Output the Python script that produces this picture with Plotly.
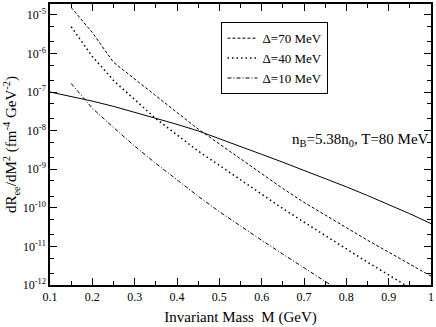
import plotly.graph_objects as go

M = [0.10, 0.15, 0.20, 0.25, 0.30, 0.35, 0.40, 0.45, 0.50, 0.55, 0.60, 0.65, 0.70, 0.75, 0.80, 0.85, 0.90, 0.95, 1.00]

# log10 of dR/dM^2 values
log_solid = [-7.00, -7.115, -7.236, -7.372, -7.526, -7.679, -7.838, -8.008, -8.205, -8.41, -8.615,
             -8.82, -9.026, -9.238, -9.456, -9.682, -9.915, -10.154, -10.41]
M70 = M[1:]
log_70 = [-4.81, -5.46, -6.23, -6.67, -7.10, -7.53, -7.96, -8.35, -8.74, -9.12, -9.50,
          -9.86, -10.19, -10.52, -10.84, -11.15, -11.46, -11.77]
M40 = M[1:]
log_40 = [-5.31, -6.08, -6.70, -7.19, -7.69, -8.11, -8.53, -8.90, -9.28, -9.65, -10.02,
          -10.37, -10.72, -11.07, -11.41, -11.74, -12.08, -12.41]
M10 = M[1:15]
log_10 = [-6.78, -7.42, -7.92, -8.40, -8.85, -9.28, -9.70, -10.10, -10.48, -10.84, -11.20,
          -11.56, -11.91, -12.26]

ytick_exp = [-12, -11, -10, -9, -8, -7, -6, -5]
xticks = [0.1, 0.2, 0.3, 0.4, 0.5, 0.6, 0.7, 0.8, 0.9, 1.0]
xtick_text = ["0.1", "0.2", "0.3", "0.4", "0.5", "0.6", "0.7", "0.8", "0.9", "1"]

FONT = "Liberation Serif, Times New Roman, serif"

def p10(v):
    return [10 ** x for x in v]

fig = go.Figure()
fig.add_trace(go.Scatter(x=M70, y=p10(log_70), mode="lines", name="\u0394=70 MeV",
                         line=dict(color="black", width=1, dash="3px,2px")))
fig.add_trace(go.Scatter(x=M40, y=p10(log_40), mode="lines", name="\u0394=40 MeV",
                         line=dict(color="black", width=1.5, dash="1.5px,3px")))
fig.add_trace(go.Scatter(x=M10, y=p10(log_10), mode="lines", name="\u0394=10 MeV",
                         line=dict(color="black", width=1, dash="4px,2px,1px,2px")))
fig.add_trace(go.Scatter(x=M, y=p10(log_solid), mode="lines", showlegend=False,
                         line=dict(color="black", width=1)))

fig.update_layout(
    width=436, height=327,
    margin=dict(l=50, r=4, t=2, b=41.5),
    paper_bgcolor="white", plot_bgcolor="white",
    font=dict(family=FONT, color="black", size=12),
    legend=dict(x=0.45, y=0.935, xanchor="left", yanchor="top",
                bordercolor="black", borderwidth=1, bgcolor="white",
                font=dict(family=FONT, size=13), itemwidth=30,
                tracegroupgap=0),
    xaxis=dict(range=[0.1, 1.0], tickvals=xticks, ticktext=xtick_text,
               ticks="inside", ticklen=7, tickwidth=1, tickcolor="black",
               minor=dict(ticks="inside", ticklen=4, dtick=0.05, tickcolor="black", showgrid=False),
               showline=True, linecolor="black", linewidth=1.5, mirror="ticks",
               showgrid=False, zeroline=False,
               tickfont=dict(family=FONT, size=12),
               title=dict(text="Invariant Mass  M (GeV)", font=dict(family=FONT, size=15), standoff=8)),
    yaxis=dict(type="log", range=[-12, -4.72],
               tickvals=[10 ** e for e in ytick_exp],
               ticktext=["10<sup>%d</sup>" % e for e in ytick_exp],
               ticks="inside", ticklen=7, tickwidth=1, tickcolor="black",
               minor=dict(ticks="inside", ticklen=4, tickcolor="black", showgrid=False),
               showline=True, linecolor="black", linewidth=1.5, mirror="ticks",
               showgrid=False, zeroline=False,
               tickfont=dict(family=FONT, size=12),
               title=dict(text="dR<sub>ee</sub>/dM<sup>2</sup> (fm<sup>-4</sup> GeV<sup>-2</sup>)",
                          font=dict(family=FONT, size=15), standoff=2)),
    annotations=[dict(text="n<sub>B</sub>=5.38n<sub>0</sub>, T=80 MeV", xref="paper", yref="paper",
                      x=1.0, y=0.515, xanchor="right", yanchor="middle", showarrow=False,
                      font=dict(family=FONT, size=15))],
)

fig.write_html("out.html", config={"displayModeBar": False},
               post_script="document.body.style.margin='0';document.body.style.padding='0';")
